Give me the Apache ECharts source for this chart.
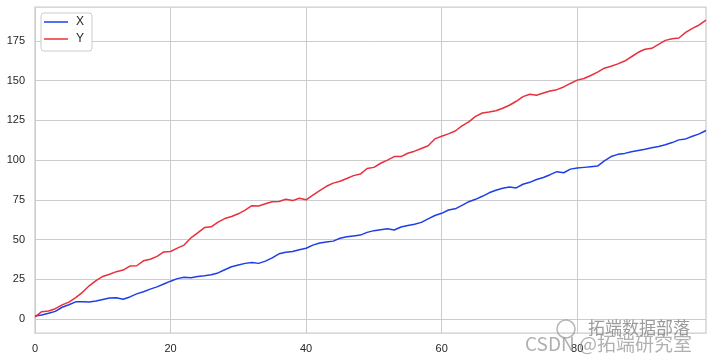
<!DOCTYPE html>
<html>
<head>
<meta charset="utf-8">
<script src="https://cdn.jsdelivr.net/npm/echarts@6/dist/echarts.min.js"></script>
<style>html,body{margin:0;padding:0;background:#fff}#c{width:711px;height:360px}</style>
</head>
<body>
<div id="c"></div>
<script>
const xIndex = Array.from({length: 100}, (_, i) => i);
const seriesX = [1.9,2.5,3.6,4.8,7.4,9.0,10.8,10.8,10.7,11.3,12.3,13.2,13.4,12.4,13.9,15.8,17.2,18.8,20.2,22.0,
23.8,25.4,26.3,26.0,26.7,27.2,27.8,29.0,31.0,32.9,34.0,35.0,35.6,35.0,36.4,38.5,41.0,42.0,42.5,43.6,
44.5,46.5,47.8,48.5,49.0,50.8,51.8,52.3,52.8,54.5,55.6,56.2,56.8,56.0,57.9,58.8,59.6,60.8,63.0,65.1,
66.5,68.6,69.3,71.5,73.8,75.3,77.2,79.4,81.0,82.3,83.0,82.5,84.8,86.0,87.8,89.0,90.8,92.7,92.0,94.3,
95.0,95.4,95.8,96.2,99.5,102.2,103.6,104.2,105.2,106.0,106.8,107.7,108.6,109.6,111.0,112.7,113.3,115.0,116.5,118.6];
const seriesY = [1.3,4.6,5.0,6.5,8.9,10.6,13.5,16.8,20.9,24.2,26.8,28.2,29.8,30.8,33.3,33.5,36.6,37.6,39.4,42.2,
42.5,44.6,46.5,51.0,54.2,57.5,58.0,61.0,63.2,64.5,66.2,68.5,71.3,71.1,72.5,73.8,73.9,75.3,74.5,76.0,
75.0,78.0,80.8,83.5,85.5,86.7,88.4,90.2,91.2,94.7,95.4,98.0,100.0,102.2,102.2,104.3,105.6,107.3,109.0,113.3,
115.0,116.5,118.3,121.5,124.0,127.5,129.6,130.2,131.0,132.6,134.5,137.0,139.9,141.4,140.8,142.2,143.4,144.3,146.0,148.2,
150.3,151.3,153.2,155.3,157.8,159.0,160.5,162.3,165.0,167.8,169.7,170.3,172.8,175.3,176.3,176.8,180.3,182.8,185.0,188.0];
const xTicks = [0, 20, 40, 60, 80];
const yTicks = [0, 25, 50, 75, 100, 125, 150, 175];
const seriesNames = ['X', 'Y'];

const chart = echarts.init(document.getElementById('c'), null, {renderer: 'canvas'});
const font = 'Liberation Sans, Arial, sans-serif';
chart.setOption({
  animation: false,
  backgroundColor: '#ffffff',
  grid: {left: 35, right: 5, top: 7, bottom: 27, show: true, borderColor: '#cccccc', borderWidth: 1.25, backgroundColor: 'transparent'},
  legend: {
    data: seriesNames,
    orient: 'vertical', left: 41, top: 13,
    icon: 'path://M0,0 L24,0 L24,1.5 L0,1.5 Z',
    padding: [3, 8, 6, 3], itemWidth: 24, itemHeight: 10, itemGap: 5,
    backgroundColor: '#fff', borderColor: '#cccccc', borderWidth: 1, borderRadius: 3,
    textStyle: {fontFamily: font, fontSize: 12, color: '#262626', padding: [0, 0, 0, 3]}
  },
  xAxis: {
    type: 'value', min: 0, max: 99,
    axisLine: {show: false}, axisTick: {show: false, customValues: xTicks},
    axisLabel: {customValues: xTicks, fontFamily: font, fontSize: 11, color: '#262626', margin: 10},
    splitLine: {show: true, lineStyle: {color: '#cccccc', width: 1}}
  },
  yAxis: {
    type: 'value', min: -8.8, max: 196.3,
    axisLine: {show: false}, axisTick: {show: false, customValues: yTicks},
    axisLabel: {customValues: yTicks, fontFamily: font, fontSize: 11, color: '#262626', margin: 10},
    splitLine: {show: true, lineStyle: {color: '#cccccc', width: 1}}
  },
  series: [
    {name: seriesNames[0], type: 'line', symbol: 'none', data: xIndex.map((x, i) => [x, seriesX[i]]),
     lineStyle: {color: '#1f3fe6', width: 1.5}, itemStyle: {color: '#1f3fe6'}},
    {name: seriesNames[1], type: 'line', symbol: 'none', data: xIndex.map((x, i) => [x, seriesY[i]]),
     lineStyle: {color: '#e8303c', width: 1.5}, itemStyle: {color: '#e8303c'}}
  ],
  graphic: [
    {type: 'circle', shape: {cx: 566, cy: 329, r: 9}, style: {fill: 'none', stroke: 'rgba(150,150,150,0.7)', lineWidth: 1.5}, z: 100},
    {type: 'text', left: 588, top: 319, style: {text: '拓端数据部落', fontFamily: 'Noto Sans CJK SC', fontSize: 17, fill: 'rgba(130,130,130,0.8)'}, z: 100},
    {type: 'text', left: 525, top: 334, style: {text: 'CSDN @拓端研究室', fontFamily: 'Noto Sans CJK SC', fontSize: 19, fill: 'rgba(150,150,150,0.75)'}, z: 100}
  ]
});
</script>
</body>
</html>
